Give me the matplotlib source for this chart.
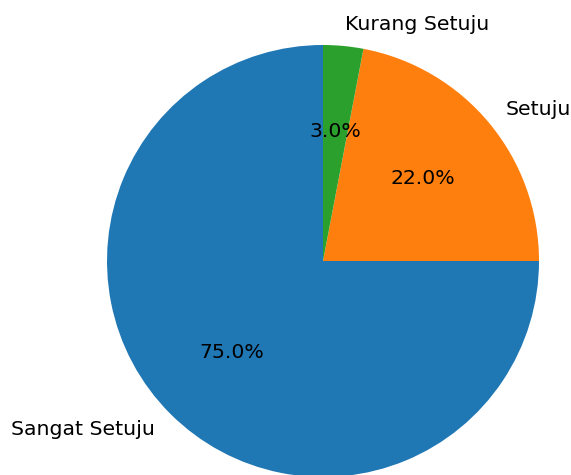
import matplotlib
matplotlib.use("Agg")
import matplotlib.pyplot as plt

labels = ["Sangat Setuju", "Setuju", "Kurang Setuju"]
values = [75, 22, 3]

fig = plt.figure(figsize=(5.71, 4.75), dpi=100)
ax = fig.add_axes([53 / 571, -56 / 475, 540 / 571, 540 / 475])
ax.pie(values, labels=labels, autopct="%1.1f%%", startangle=90,
       textprops={"fontsize": 14.7})
ax.axis("equal")
ax.set_xlim(-1.25, 1.25)
ax.set_ylim(-1.25, 1.25)

fig.savefig("out.png", dpi=100)
